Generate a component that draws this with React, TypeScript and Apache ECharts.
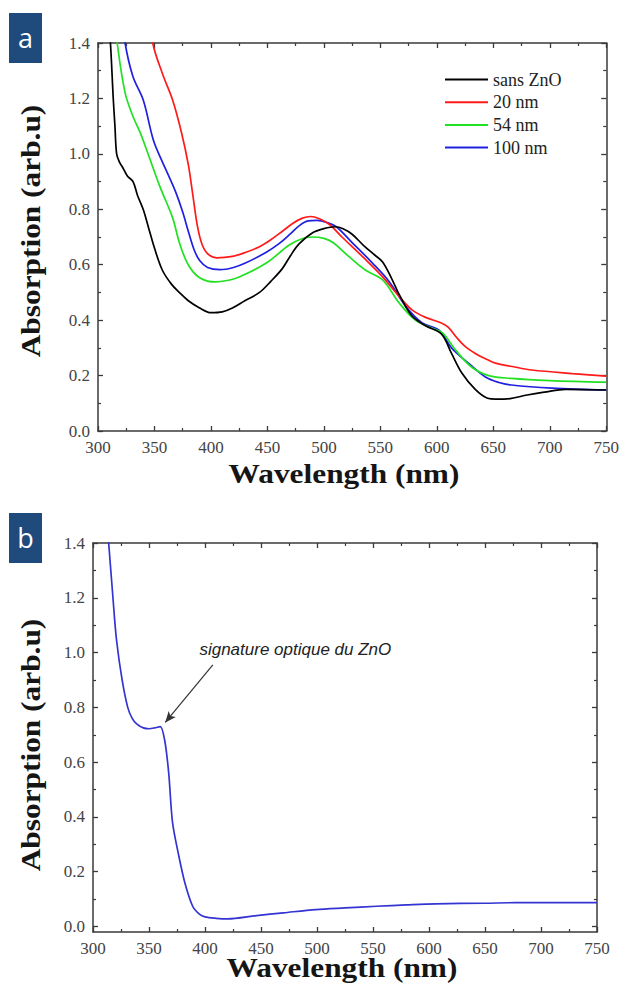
import React, { useEffect, useRef } from "react";
import * as echarts from "echarts";

// ---------- Panel a data ----------
const sansZnoWl = [308, 311, 313.5, 315, 316.5, 319, 322, 326, 331, 335, 340, 345, 350, 357, 365, 372, 380, 390, 400, 410, 419, 430, 443, 453, 463, 470, 478, 490, 500, 510, 517, 525, 535, 545, 552, 560, 567, 578, 590, 604, 613, 622, 634, 645, 652, 665, 680, 695, 714, 750];
const sansZnoAbs = [1.55, 1.4, 1.2, 1.1, 1.0, 0.97, 0.95, 0.92, 0.9, 0.85, 0.8, 0.73, 0.66, 0.58, 0.53, 0.5, 0.47, 0.444, 0.427, 0.43, 0.444, 0.47, 0.5, 0.54, 0.585, 0.63, 0.675, 0.715, 0.73, 0.737, 0.73, 0.71, 0.67, 0.635, 0.61, 0.55, 0.49, 0.415, 0.38, 0.35, 0.28, 0.21, 0.15, 0.118, 0.115, 0.117, 0.13, 0.14, 0.15, 0.148];

const nm20Wl = [345, 348.5, 357, 366, 374, 380, 384, 388, 392, 397, 405, 419, 431, 443, 453, 463, 472, 481, 488, 496, 505, 516, 534, 552, 567, 578, 590, 604, 610, 617, 625, 634, 645, 652, 670, 684, 720, 750];
const nm20Abs = [1.55, 1.4, 1.29, 1.195, 1.075, 0.96, 0.85, 0.74, 0.675, 0.64, 0.625, 0.63, 0.645, 0.665, 0.69, 0.72, 0.748, 0.768, 0.774, 0.766, 0.745, 0.7, 0.63, 0.556, 0.484, 0.437, 0.41, 0.39, 0.375, 0.34, 0.305, 0.28, 0.257, 0.245, 0.23, 0.22, 0.207, 0.198];

const nm54Wl = [313, 317, 324, 331, 337, 343, 355, 366, 372, 378, 384, 390, 397, 404, 413, 425, 449, 469, 480, 490, 500, 508, 522, 537, 552, 567, 581, 596, 605, 617, 631, 646, 666, 700, 750];
const nm54Abs = [1.55, 1.4, 1.22, 1.135, 1.08, 1.015, 0.88, 0.77, 0.68, 0.615, 0.575, 0.553, 0.541, 0.538, 0.542, 0.556, 0.606, 0.67, 0.693, 0.7, 0.695, 0.68, 0.63, 0.58, 0.545, 0.46, 0.4, 0.37, 0.354, 0.29, 0.23, 0.2, 0.19, 0.182, 0.176];

const nm100Wl = [320, 324, 331, 340, 349, 356, 363, 369, 375, 380, 385, 390, 397, 408, 420, 431, 449, 460, 470, 478, 486, 494, 503, 511, 525, 543, 558, 573, 587, 602, 613, 628, 643, 655, 666, 702, 750];
const nm100Abs = [1.55, 1.4, 1.278, 1.195, 1.05, 0.98, 0.917, 0.86, 0.79, 0.72, 0.655, 0.615, 0.59, 0.582, 0.59, 0.607, 0.645, 0.675, 0.71, 0.74, 0.758, 0.76, 0.752, 0.737, 0.68, 0.606, 0.538, 0.447, 0.39, 0.364, 0.3, 0.245, 0.195, 0.175, 0.166, 0.155, 0.148];

// ---------- Panel b data ----------
const znoWl = [311, 314, 318, 321, 326, 331, 335, 339, 345, 350, 355, 360, 364, 367.6, 371, 376.5, 382, 389, 395, 400, 410, 420, 446, 470, 499, 525, 553, 580, 606, 650, 677, 750];
const znoAbs = [1.55, 1.4, 1.19, 1.046, 0.9, 0.8, 0.76, 0.74, 0.725, 0.722, 0.725, 0.73, 0.68, 0.56, 0.38, 0.26, 0.16, 0.074, 0.045, 0.035, 0.03, 0.028, 0.04, 0.05, 0.062, 0.068, 0.074, 0.079, 0.083, 0.085, 0.087, 0.087];

// ---------- Tick values ----------
const yMajorB = [0, 0.2, 0.4, 0.6, 0.8, 1.0, 1.2, 1.4];
const yMinorB = [0.1, 0.3, 0.5, 0.7, 0.9, 1.1, 1.3];
const legendNames = ["sans ZnO", "20 nm", "54 nm", "100 nm"];
const seriesColors = ["#000000", "#ff1a1a", "#22e022", "#2020e0"];

const toPairs = (xs: number[], ys: number[]) => xs.map((x, i) => [x, ys[i]]);

const AX = "#3a3a3a";
const SERIF = "Liberation Serif";
const RICH = { s: { color: "#444", fontFamily: SERIF, fontSize: 17 } };
const LBL = {
  color: "#444",
  fontFamily: SERIF,
  fontSize: 17,
  rich: RICH,
};

function xAxisPair(gridIndex: number) {
  const common = {
    type: "value",
    gridIndex,
    min: 300,
    max: 750,
    interval: 50,
    splitLine: { show: false },
    axisLine: { show: true, onZero: false, lineStyle: { color: AX, width: 1.5 } },
    axisTick: { show: true, inside: true, length: 5, lineStyle: { color: AX, width: 1.3 } },
    minorTick: { show: true, splitNumber: 2, length: 3, lineStyle: { color: AX, width: 1.2 } },
  };
  return [
    {
      ...common,
      position: "bottom",
      axisLabel: { ...LBL, margin: 8, showMinLabel: true, showMaxLabel: true, formatter: (v: number) => `{s|${v}}` },
    },
    { ...common, position: "top", axisLabel: { show: false } },
  ];
}

export default function App() {
  const ref = useRef<HTMLDivElement>(null);
  useEffect(() => {
    if (!ref.current) return;
    const chart = echarts.init(ref.current, undefined, { renderer: "svg" });

    const yFmt = (v: number) => `{s|${v.toFixed(1)}}`;
    const yA = {
      type: "value",
      gridIndex: 0,
      min: 0,
      max: 1.4,
      interval: 0.2,
      splitLine: { show: false },
      axisLine: { show: true, onZero: false, lineStyle: { color: AX, width: 1.5 } },
      axisTick: { show: true, inside: true, length: 5, lineStyle: { color: AX, width: 1.3 } },
      minorTick: { show: true, splitNumber: 2, length: 3, lineStyle: { color: AX, width: 1.2 } },
    };
    const yBBase = {
      type: "value",
      gridIndex: 1,
      min: -0.02,
      max: 1.4,
      splitLine: { show: false },
    };

    const dataA = [
      toPairs(sansZnoWl, sansZnoAbs),
      toPairs(nm20Wl, nm20Abs),
      toPairs(nm54Wl, nm54Abs),
      toPairs(nm100Wl, nm100Abs),
    ];

    const option: any = {
      animation: false,
      backgroundColor: "#ffffff",
      grid: [
        { left: 98, top: 43, width: 510, height: 388 },
        { left: 93, top: 543, width: 504, height: 389 },
      ],
      legend: {
        data: legendNames,
        orient: "vertical",
        left: 445,
        top: 70,
        padding: 0,
        icon: "rect",
        itemWidth: 43,
        itemHeight: 2,
        itemGap: 3.7,
        textStyle: { color: "#222", fontFamily: SERIF, fontSize: 18, lineHeight: 19 },
      },
      xAxis: [...xAxisPair(0), ...xAxisPair(1)],
      yAxis: [
        { ...yA, position: "left", axisLabel: { ...LBL, margin: 8, formatter: yFmt } },
        { ...yA, position: "right", axisLabel: { show: false } },
        {
          ...yBBase,
          position: "left",
          axisLine: { show: true, onZero: false, lineStyle: { color: AX, width: 1.5 } },
          axisTick: { show: true, inside: true, length: 5, customValues: yMajorB, lineStyle: { color: AX, width: 1.3 } },
          axisLabel: { ...LBL, margin: 8, customValues: yMajorB, formatter: yFmt },
        },
        {
          ...yBBase,
          position: "right",
          axisLine: { show: true, onZero: false, lineStyle: { color: AX, width: 1.5 } },
          axisTick: { show: true, inside: true, length: 5, customValues: yMajorB, lineStyle: { color: AX, width: 1.3 } },
          axisLabel: { show: false },
        },
        {
          ...yBBase,
          position: "left",
          axisLine: { show: false },
          axisTick: { show: true, inside: true, length: 3, customValues: yMinorB, lineStyle: { color: AX, width: 1.2 } },
          axisLabel: { show: false },
        },
        {
          ...yBBase,
          position: "right",
          axisLine: { show: false },
          axisTick: { show: true, inside: true, length: 3, customValues: yMinorB, lineStyle: { color: AX, width: 1.2 } },
          axisLabel: { show: false },
        },
      ],
      series: [
        ...legendNames.map((name, i) => ({
          type: "line",
          name,
          xAxisIndex: 0,
          yAxisIndex: 0,
          data: dataA[i],
          smooth: 0.35,
          showSymbol: false,
          symbol: "none",
          clip: true,
          lineStyle: { color: seriesColors[i], width: 1.7 },
          itemStyle: { color: seriesColors[i] },
          z: 3 + (3 - i),
        })),
        {
          type: "line",
          name: "ZnO",
          xAxisIndex: 2,
          yAxisIndex: 2,
          data: toPairs(znoWl, znoAbs),
          smooth: 0.3,
          showSymbol: false,
          symbol: "none",
          clip: true,
          lineStyle: { color: "#3434d2", width: 1.7 },
          itemStyle: { color: "#3434d2" },
          markLine: {
            silent: true,
            symbol: ["none", "arrow"],
            symbolSize: [7, 11],
            label: { show: false },
            lineStyle: { color: "#333", width: 1.2, type: "solid" },
            data: [[{ coord: [407, 0.955] }, { coord: [364.5, 0.745] }]],
          },
        },
      ],
    };
    chart.setOption(option);

    const annot = chart.convertToPixel({ xAxisIndex: 2, yAxisIndex: 2 }, [395, 1.01]) as number[];

    const titleStyle = {
      fontFamily: SERIF,
      fontWeight: "bold",
      fontSize: 28,
      fill: "#151515",
      align: "center",
      verticalAlign: "middle",
      textAlign: "center",
      textVerticalAlign: "middle",
    };
    const boxLetter = (letter: string, top: number) => [
      { type: "rect", shape: { x: 9, y: top, width: 33, height: 50 }, style: { fill: "#1f4b7c" } },
      {
        type: "text",
        x: 25.5,
        y: top + 24,
        style: {
          text: letter,
          fontFamily: "Open Sans",
          fontSize: 27,
          fill: "#ffffff",
          align: "center",
          verticalAlign: "middle",
          textAlign: "center",
          textVerticalAlign: "middle",
        },
      },
    ];

    chart.setOption({
      graphic: [
        ...boxLetter("a", 13),
        ...boxLetter("b", 513),
        { type: "text", x: 344, y: 474, scaleX: 1.12, style: { ...titleStyle, text: "Wavelength (nm)" } },
        { type: "text", x: 342, y: 968, scaleX: 1.12, style: { ...titleStyle, text: "Wavelength (nm)" } },
        { type: "text", x: 31, y: 231, rotation: Math.PI / 2, scaleX: 1.12, style: { ...titleStyle, text: "Absorption (arb.u)" } },
        { type: "text", x: 31, y: 745, rotation: Math.PI / 2, scaleX: 1.12, style: { ...titleStyle, text: "Absorption (arb.u)" } },
        {
          type: "text",
          x: annot[0],
          y: annot[1],
          style: {
            text: "signature optique du ZnO",
            fontFamily: "Liberation Sans",
            fontStyle: "italic",
            fontSize: 17,
            fill: "#222",
            align: "left",
            verticalAlign: "middle",
            textAlign: "left",
            textVerticalAlign: "middle",
          },
        },
      ],
    });

    return () => chart.dispose();
  }, []);

  return (
    <div
      ref={ref}
      style={{ position: "absolute", left: 0, top: 0, width: 622, height: 990, background: "#fff" }}
    />
  );
}
